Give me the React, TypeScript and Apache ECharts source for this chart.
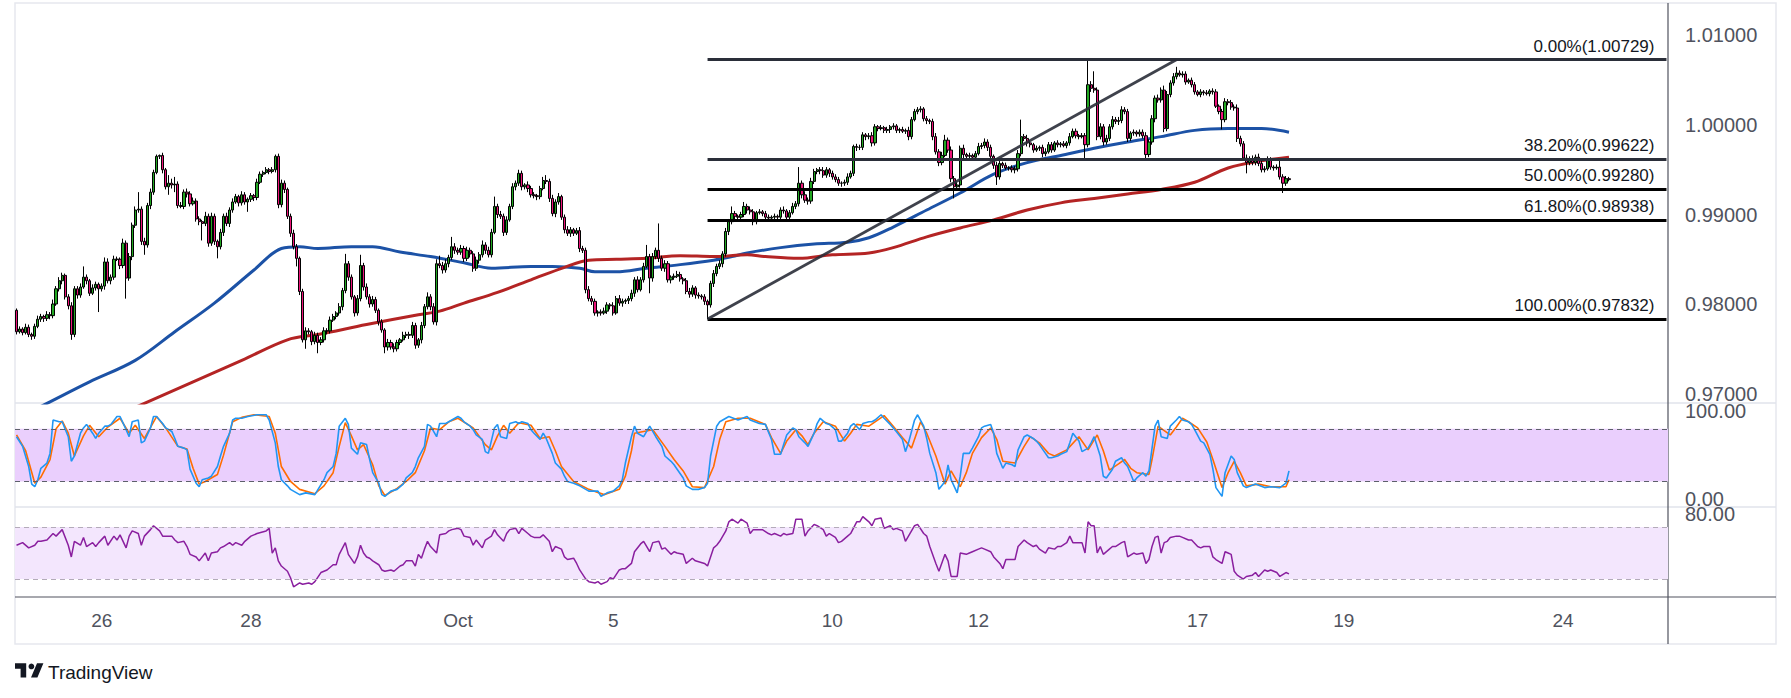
import React, { useEffect, useRef } from "react";
import * as echarts from "echarts";

// ---------- data (prices in pips: 9765 = 0.9765) ----------
const SLOTS = 543;
const firstOpen = 9793;
const closes = [
  9769, 9772, 9768, 9774, 9766, 9764, 9775, 9783, 9786, 9784,
  9788, 9787, 9800, 9817, 9826, 9832, 9808, 9798, 9766, 9817,
  9810, 9819, 9830, 9826, 9812, 9818, 9822, 9817, 9820, 9847,
  9826, 9830, 9850, 9850, 9843, 9868, 9829, 9853, 9888, 9905,
  9906, 9870, 9866, 9910, 9925, 9947, 9965, 9966, 9950, 9931,
  9935, 9933, 9934, 9910, 9909, 9925, 9923, 9912, 9915, 9895,
  9892, 9890, 9898, 9868, 9898, 9870, 9864, 9880, 9898, 9890,
  9905, 9914, 9920, 9913, 9922, 9914, 9917, 9921, 9919, 9936,
  9945, 9947, 9950, 9948, 9950, 9965, 9911, 9935, 9928, 9898,
  9879, 9864, 9851, 9814, 9760, 9770, 9769, 9758, 9765, 9757,
  9760, 9770, 9770, 9782, 9786, 9790, 9797, 9815, 9845, 9830,
  9808, 9790, 9806, 9843, 9819, 9808, 9800, 9805, 9793, 9780,
  9771, 9752, 9757, 9752, 9750, 9757, 9760, 9765, 9766, 9765,
  9776, 9754, 9760, 9776, 9797, 9808, 9797, 9780, 9845, 9843,
  9838, 9845, 9852, 9864, 9860, 9858, 9862, 9851, 9860, 9856,
  9840, 9849, 9855, 9866, 9860, 9855, 9880, 9909, 9900, 9898,
  9880, 9894, 9909, 9931, 9935, 9946, 9931, 9933, 9929, 9922,
  9921, 9920, 9929, 9938, 9937, 9918, 9901, 9914, 9920, 9897,
  9883, 9879, 9883, 9879, 9882, 9862, 9860, 9816, 9806, 9803,
  9790, 9791, 9790, 9792, 9799, 9798, 9790, 9806, 9801, 9803,
  9804, 9806, 9812, 9827, 9816, 9827, 9842, 9853, 9829, 9853,
  9860, 9851, 9840, 9845, 9827, 9830, 9831, 9833, 9828, 9826,
  9814, 9811, 9818, 9810, 9809, 9808, 9803, 9799, 9823, 9834,
  9842, 9845, 9856, 9881, 9892, 9901, 9898, 9897, 9900, 9909,
  9905, 9903, 9892, 9902, 9903, 9901, 9897, 9896, 9897, 9898,
  9897, 9905, 9904, 9897, 9902, 9909, 9912, 9935, 9922, 9916,
  9915, 9937, 9948, 9950, 9949, 9944, 9950, 9946, 9942, 9939,
  9935, 9935, 9936, 9942, 9946, 9976, 9975, 9975, 9989, 9987,
  9988, 9980, 9998, 9996, 9997, 9994, 9995, 9998, 9999, 9994,
  9995, 9993, 9994, 9987, 10006, 10015, 10017, 10018, 10007, 10005,
  10004, 9987, 9970, 9958, 9966, 9983, 9972, 9940, 9931, 9933,
  9974, 9967, 9965, 9966, 9964, 9968, 9976, 9977, 9981, 9975,
  9965, 9955, 9942, 9957, 9955, 9952, 9952, 9950, 9951, 9968,
  9987, 9985, 9980, 9978, 9972, 9974, 9975, 9968, 9970, 9978,
  9972, 9980, 9978, 9979, 9977, 9980, 9987, 9993, 9988, 9987,
  9988, 9978, 10045, 10041, 10039, 9987, 9998, 9981, 9985, 9998,
  10006, 10004, 10005, 10017, 10015, 9985, 9991, 9992, 9990, 9992,
  9988, 9967, 9981, 10007, 10030, 10028, 10039, 9996, 10034, 10047,
  10054, 10058, 10056, 10057, 10048, 10050, 10045, 10037, 10034, 10037,
  10036, 10035, 10038, 10037, 10021, 10015, 10006, 10026, 10025, 10020,
  10019, 9985, 9979, 9963, 9958, 9962, 9958, 9964, 9957, 9950,
  9951, 9961, 9953, 9952, 9953, 9942, 9935, 9940, 9939,
];
const upWick = [
  2, 3, 2, 4, 3, 2, 3, 4, 3, 2, 4, 3, 5, 3, 4, 3, 2, 3, 4, 3,
  3, 4, 12, 3, 2, 4, 3, 2, 3, 5, 4, 3, 4, 3, 2, 5, 3, 4, 3, 4,
  19, 3, 4, 3, 4, 3, 2, 1, 3, 2, 9, 5, 8, 3, 4, 3, 4, 3, 4, 3,
  3, 2, 5, 3, 4, 3, 2, 4, 3, 4, 3, 4, 3, 2, 4, 3, 2, 3, 2, 4,
  3, 2, 3, 2, 3, 2, 3, 4, 3, 2, 3, 4, 3, 2, 3, 4, 3, 2, 4, 3,
  3, 4, 3, 4, 3, 2, 4, 3, 11, 3, 3, 2, 4, 12, 3, 4, 3, 4, 3, 2,
  3, 2, 4, 3, 4, 3, 2, 4, 3, 3, 4, 3, 2, 4, 3, 5, 3, 4, 5, 9,
  4, 5, 3, 11, 4, 3, 4, 3, 4, 3, 3, 4, 3, 5, 3, 4, 4, 11, 3, 4,
  3, 4, 3, 4, 3, 4, 3, 2, 4, 3, 3, 2, 3, 4, 6, 3, 4, 3, 4, 2,
  3, 4, 3, 2, 3, 4, 3, 3, 4, 3, 3, 2, 3, 4, 3, 2, 4, 3, 4, 3,
  2, 3, 4, 3, 4, 3, 4, 13, 3, 4, 3, 30, 3, 4, 3, 2, 3, 4, 3, 2,
  3, 4, 3, 2, 3, 2, 3, 2, 3, 4, 3, 4, 3, 4, 3, 8, 3, 2, 3, 5,
  3, 4, 3, 2, 3, 2, 3, 3, 2, 3, 2, 3, 4, 2, 3, 4, 3, 18, 3, 4,
  3, 4, 3, 2, 3, 4, 3, 2, 3, 3, 3, 2, 3, 4, 3, 2, 3, 3, 3, 2,
  3, 4, 3, 2, 3, 2, 3, 2, 3, 2, 2, 3, 2, 4, 3, 3, 3, 3, 2, 3,
  2, 3, 4, 3, 4, 6, 3, 4, 3, 4, 3, 4, 2, 3, 2, 3, 4, 3, 4, 3,
  3, 2, 4, 3, 2, 3, 2, 3, 3, 4, 19, 3, 4, 3, 2, 3, 2, 3, 4, 3,
  3, 2, 3, 2, 3, 2, 4, 3, 3, 2, 3, 3, 28, 4, 19, 3, 4, 3, 4, 3,
  4, 3, 4, 4, 3, 3, 2, 3, 2, 3, 3, 4, 3, 4, 3, 4, 3, 5, 4, 3,
  4, 7, 3, 3, 3, 2, 3, 3, 2, 3, 2, 3, 2, 3, 3, 2, 3, 4, 3, 3,
  3, 4, 3, 3, 4, 3, 4, 3, 4, 3, 3, 4, 3, 2, 3, 10, 3, 3, 2,
];
const downWick = [
  3, 2, 3, 2, 3, 4, 3, 2, 3, 4, 3, 4, 3, 2, 3, 4, 3, 4, 6, 3,
  4, 3, 2, 4, 3, 2, 3, 26, 3, 4, 3, 4, 3, 2, 4, 3, 23, 3, 4, 3,
  3, 4, 11, 3, 4, 3, 2, 3, 4, 3, 9, 4, 8, 3, 2, 3, 4, 3, 2, 3,
  4, 19, 3, 4, 3, 4, 13, 3, 4, 3, 4, 3, 2, 4, 3, 3, 11, 3, 4, 3,
  2, 3, 2, 3, 2, 3, 4, 3, 4, 3, 4, 3, 9, 4, 3, 10, 3, 4, 3, 12,
  3, 3, 4, 3, 2, 3, 3, 4, 3, 4, 3, 4, 3, 3, 4, 3, 4, 3, 3, 4,
  3, 7, 4, 3, 4, 3, 3, 2, 3, 4, 3, 4, 3, 4, 3, 3, 4, 3, 4, 3,
  4, 3, 4, 3, 4, 3, 3, 4, 3, 4, 4, 3, 4, 3, 4, 3, 3, 2, 4, 3,
  4, 3, 2, 3, 4, 3, 4, 3, 4, 3, 3, 4, 3, 2, 3, 4, 3, 4, 3, 3,
  4, 3, 4, 3, 2, 4, 3, 4, 3, 4, 3, 4, 3, 2, 3, 4, 3, 2, 3, 4,
  3, 4, 3, 4, 3, 2, 3, 2, 17, 4, 3, 4, 3, 4, 3, 4, 3, 2, 3, 4,
  3, 4, 3, 4, 3, 3, 4, 16, 3, 4, 3, 3, 4, 3, 4, 3, 4, 3, 2, 3,
  4, 3, 4, 3, 2, 3, 4, 3, 3, 2, 3, 2, 3, 4, 3, 2, 3, 3, 4, 3,
  4, 3, 3, 3, 4, 3, 3, 4, 3, 3, 3, 4, 3, 3, 2, 3, 4, 3, 3, 4,
  3, 4, 3, 3, 2, 3, 3, 4, 3, 3, 3, 2, 3, 4, 3, 2, 3, 3, 3, 4,
  3, 4, 3, 4, 3, 2, 3, 4, 13, 3, 3, 4, 3, 2, 3, 3, 2, 3, 3, 4,
  3, 4, 9, 3, 3, 2, 3, 3, 4, 3, 3, 3, 4, 3, 3, 2, 3, 4, 3, 2,
  3, 2, 3, 3, 2, 3, 3, 2, 3, 3, 2, 15, 3, 4, 3, 4, 3, 4, 3, 3,
  3, 3, 4, 3, 3, 4, 3, 3, 3, 3, 3, 4, 3, 3, 4, 3, 3, 4, 3, 3,
  3, 3, 2, 3, 3, 2, 3, 3, 2, 3, 3, 2, 3, 3, 2, 3, 11, 3, 3, 3,
  3, 4, 3, 3, 12, 3, 3, 3, 3, 3, 3, 2, 3, 3, 2, 3, 11, 3, 2,
];
// moving averages sampled at bar indices [bar, pips]
const blueMA = [
  [0, 9672], [10, 9689], [24, 9713], [39, 9737], [52, 9769], [65, 9801], [78, 9838], [87, 9862],
  [93, 9864], [99, 9862], [110, 9864], [117, 9864], [126, 9858], [136, 9853], [147, 9846], [156, 9840],
  [169, 9842], [176, 9842], [185, 9840], [190, 9836], [197, 9836], [207, 9840], [218, 9844], [229, 9849],
  [235, 9853], [240, 9857], [251, 9863], [262, 9867], [273, 9869], [280, 9874], [288, 9886], [299, 9905],
  [310, 9924], [321, 9945], [332, 9958], [343, 9966], [354, 9974], [365, 9981], [376, 9987], [387, 9994],
  [398, 9996], [409, 9996], [418, 9992],
];
const redMA = [
  [0, 9626], [42, 9689], [74, 9737], [89, 9760], [99, 9766], [115, 9777], [132, 9788], [139, 9792],
  [147, 9801], [158, 9813], [169, 9827], [180, 9841], [188, 9849], [197, 9850], [207, 9851], [218, 9854],
  [229, 9853], [240, 9855], [246, 9853], [257, 9851], [268, 9855], [280, 9857], [288, 9863], [299, 9875],
  [310, 9885], [321, 9894], [332, 9905], [343, 9913], [354, 9918], [365, 9923], [376, 9928], [387, 9936],
  [398, 9952], [409, 9960], [418, 9964],
];
const stochK = [
  [0,71],[2,60],[4,37],[5,17],[6,14],[7,22],[8,35],[10,41],[11,52],[12,90],[14,88],[15,88],[17,71],[18,43],[19,49],[21,75],[22,81],[23,85],[25,75],[26,69],[27,75],[29,83],[30,83],[31,85],[33,94],[34,94],[36,79],[37,71],[38,88],[40,90],[41,64],[42,66],[44,81],[45,94],[46,94],[48,86],[49,81],[51,77],[52,69],[53,60],[55,58],[56,56],[57,34],[59,18],[60,14],[61,22],[63,24],[64,26],[66,37],[67,49],[68,60],[70,75],[71,90],[72,92],[74,92],[76,94],[79,96],[82,96],[83,90],[85,64],[86,37],[87,22],[89,15],[90,11],[93,5],[95,7],[98,5],[101,22],[102,30],[104,37],[105,52],[106,83],[108,92],[109,85],[110,58],[112,51],[113,64],[115,62],[116,45],[117,30],[119,18],[120,5],[121,3],[123,9],[125,11],[127,17],[128,24],[130,30],[131,37],[132,47],[134,60],[135,85],[136,83],[138,71],[139,86],[141,86],[142,88],[143,90],[145,94],[146,92],[147,88],[149,83],[150,79],[151,73],[153,68],[154,54],[155,52],[157,81],[158,85],[159,71],[161,69],[162,86],[164,88],[165,86],[166,88],[168,86],[169,79],[170,75],[172,68],[173,75],[174,69],[176,52],[177,41],[179,34],[180,26],[181,20],[183,18],[185,15],[188,9],[191,9],[192,3],[194,7],[196,9],[198,15],[199,22],[200,41],[202,71],[203,83],[204,75],
  [206,71],[208,83],[209,77],[210,71],[212,60],[213,49],[215,43],[216,39],[217,34],[219,24],[220,15],[222,11],[224,11],[226,13],[227,18],[228,49],[230,83],[231,88],[233,92],[234,94],[237,90],[240,94],[241,90],[244,86],[246,85],[248,68],[249,51],[251,51],[252,62],[253,73],[255,81],[256,79],[257,71],[259,64],[260,60],[262,75],[263,86],[264,92],[266,86],[267,85],[269,79],[270,66],[271,66],[273,75],[274,83],[275,86],[277,79],[278,86],[280,88],[281,88],[282,90],[284,96],[285,92],[287,85],[288,81],[289,77],[291,68],[292,54],[293,64],[295,90],[296,96],[298,83],[299,69],[300,52],[302,30],[303,11],[305,20],[306,39],[307,22],[309,7],[310,26],[311,52],[313,52],[314,58],[316,71],[317,81],[318,83],[320,85],[321,75],[322,52],[324,35],[325,41],[327,39],[328,37],[329,56],[331,71],[332,73],[334,69],[335,66],[336,62],[338,52],[339,47],[340,47],[342,49],[343,51],[345,54],[346,64],[347,75],[349,66],[350,54],[352,58],[353,64],[354,71],[356,49],[357,26],[358,24],[360,34],[361,43],[363,47],[364,41],[365,37],[367,20],[368,24],[370,30],[371,26],[372,32],[374,83],[375,90],[376,71],[378,69],[379,83],[381,90],[382,94],[383,90],[385,88],[386,85],[387,79],[389,66],[390,64],[392,51],[393,34],[394,13],[396,3],[397,30],[399,49],[400,45],[401,30],[403,15],[404,13],[407,17],[410,13],[412,14],[415,13],[417,18],[418,32],
];
const stochD = [
  [0,73],[3,55],[6,18],[8,25],[11,45],[13,80],[15,89],[17,75],[19,49],[22,72],[24,84],[27,71],[30,82],[34,92],[37,75],[39,84],[42,69],[46,94],[49,81],[53,60],[56,57],[58,35],[60,17],[62,20],[66,28],[68,50],[71,88],[74,93],[78,96],[83,94],[85,75],[87,37],[90,20],[93,11],[98,6],[101,15],[104,30],[106,60],[108,87],[110,72],[112,56],[114,62],[117,39],[119,15],[121,4],[125,12],[128,20],[131,30],[134,55],[136,81],[139,79],[142,88],[145,92],[150,81],[154,62],[156,56],[158,72],[160,84],[162,75],[165,87],[169,84],[172,69],[175,71],[177,55],[179,37],[183,20],[188,11],[193,5],[198,11],[200,26],[202,55],[203,75],[206,77],[209,79],[213,60],[216,45],[219,32],[222,14],[226,13],[229,37],[231,68],[233,88],[237,92],[241,92],[246,85],[248,70],[251,52],[253,66],[256,79],[258,72],[260,62],[262,75],[265,88],[269,83],[272,66],[274,75],[276,85],[280,83],[285,95],[288,83],[291,70],[294,58],[296,78],[297,88],[299,75],[302,49],[305,17],[307,32],[310,14],[312,30],[314,52],[317,70],[320,81],[322,68],[324,43],[328,41],[331,60],[333,71],[336,64],[339,52],[341,49],[345,56],[349,71],[352,56],[355,73],[357,55],[359,33],[362,40],[364,45],[366,35],[368,30],[372,28],[373,45],[375,83],[377,78],[379,73],[381,82],[383,92],[385,88],[388,81],[391,65],[393,45],[396,13],[398,30],[400,43],[402,30],[404,15],[408,17],[412,14],[417,14],[418,22],
];
const rsi = [
  [0,56],[2,58],[4,54],[6,56],[7,59],[8,59],[10,60],[12,65],[13,63],[15,68],[17,56],[18,47],[19,59],[21,56],[22,62],[23,55],[25,58],[26,55],[27,58],[29,63],[30,56],[32,63],[33,60],[34,64],[36,54],[37,63],[38,67],[40,65],[41,56],[42,63],[44,68],[45,71],[47,67],[48,63],[49,63],[51,63],[52,60],[53,58],[55,59],[56,55],[57,49],[59,47],[60,44],[62,50],[63,44],[64,50],[66,51],[67,54],[68,55],[70,58],[71,56],[72,58],[74,56],[75,59],[77,63],[79,65],[82,67],[83,69],[84,50],[85,54],[86,44],[87,40],[89,36],[90,31],[91,24],[93,27],[94,26],[96,27],[97,26],[98,28],[100,35],[101,36],[102,37],[104,41],[105,41],[106,49],[108,58],[109,49],[111,42],[112,47],[113,56],[114,50],[115,47],[116,46],[117,44],[119,41],[120,37],[121,36],[123,37],[124,36],[126,40],[127,41],[128,44],[130,44],[131,40],[132,49],[133,46],[134,53],[135,59],[136,55],[138,50],[139,64],[141,65],[142,67],[143,68],[145,69],[146,68],[147,63],[149,62],[150,56],[151,60],[153,54],[154,60],[156,63],[157,68],[158,64],[160,59],[161,65],[162,68],[164,69],[165,65],[166,69],[168,65],[169,63],[170,62],[172,62],[173,64],[175,59],[176,51],[177,55],[179,53],[180,47],[181,45],[183,46],[184,42],[185,37],[187,30],[188,28],[190,27],[191,28],[192,26],[194,28],[195,31],[196,30],[198,37],[199,38],[200,38],[202,42],[203,51],[205,57],
  [206,59],[208,51],[209,58],[211,59],[212,53],[213,54],[215,49],[216,51],[217,50],[219,49],[220,42],[222,46],[223,44],[226,42],[227,40],[229,54],[230,56],[231,59],[233,67],[234,74],[235,76],[237,73],[238,76],[240,73],[241,65],[242,68],[245,68],[247,65],[248,64],[249,65],[251,63],[252,65],[253,64],[255,65],[256,76],[258,76],[259,63],[260,67],[262,72],[263,71],[265,68],[266,63],[267,65],[269,62],[270,58],[271,59],[273,63],[274,65],[276,74],[277,74],[278,78],[280,74],[281,71],[282,76],[284,77],[285,69],[287,71],[288,68],[289,69],[291,67],[292,59],[294,67],[295,71],[296,72],[298,65],[299,63],[300,55],[302,42],[303,36],[305,49],[306,44],[307,32],[309,32],[310,50],[312,49],[313,50],[314,51],[316,53],[317,54],[318,53],[320,51],[321,47],[323,42],[324,38],[325,45],[327,45],[328,45],[329,55],[331,60],[332,58],[334,55],[335,56],[336,53],[338,50],[339,54],[341,53],[342,55],[343,55],[345,58],[346,63],[347,58],[349,58],[350,58],[351,50],[352,74],[353,71],[354,71],[355,50],[356,55],[357,49],[359,53],[360,55],[361,55],[363,58],[364,59],[365,47],[367,50],[368,49],[370,50],[371,42],[372,45],[373,55],[374,62],[375,63],[376,50],[377,58],[378,59],[379,62],[381,63],[382,63],[383,62],[385,60],[386,60],[388,55],[389,54],[390,55],[392,55],[393,47],[394,45],[396,42],[397,51],[398,50],[399,49],[400,36],[401,33],[403,30],[404,32],[406,33],[407,35],[408,32],[410,37],[411,36],[412,37],[414,35],[415,32],[417,35],[418,34],
];
const dateLabels = [[28, "26"], [77, "28"], [145, "Oct"], [196, "5"], [268, "10"], [316, "12"], [388, "17"], [436, "19"], [508, "24"]];
const priceTicks = [0.97, 0.98, 0.99, 1.0, 1.01];
const fibPct = ["0.00%", "38.20%", "50.00%", "61.80%", "100.00%"];
const fibPrice = [1.00729, 0.99622, 0.9928, 0.98938, 0.97832];
const fibColor = ["#2a2e39", "#2a2e39", "#000000", "#000000", "#000000"];
const fibFrom = 227;
const fibTo = 542;
const trendFrom = [227, 0.97832];
const trendTo = [381, 1.00729];

const FONT = "'Liberation Sans', Arial, sans-serif";
const LABEL = "#50535e";
const LOGO_PATH = "M14 22H7V11H0V4h14v18zM28 22h-8l7.5-18h8L28 22z";

export default function App() {
  const ref = useRef<HTMLDivElement>(null);
  useEffect(() => {
    if (!ref.current) return;
    echarts.graphic.registerShape("tvlogo", echarts.graphic.extendPath(LOGO_PATH, {}) as any);
    const chart = echarts.init(ref.current, null, { renderer: "svg" });

    const labelMap: Record<number, string> = {};
    dateLabels.forEach(([i, s]) => (labelMap[i as number] = s as string));
    const cats = Array.from({ length: SLOTS }, (_, i) => labelMap[i] ?? "");

    const ohlc = closes.map((c, i) => {
      const o = i === 0 ? firstOpen : closes[i - 1];
      const hi = Math.max(o, c) + upWick[i];
      const lo = Math.min(o, c) - downWick[i];
      return [o / 1e4, c / 1e4, lo / 1e4, hi / 1e4];
    });
    const toPrice = (a: number[][]) => a.map(([k, v]) => [k, v / 1e4]);

    const fibLines: any[] = fibPrice.map((p, i) => [
      {
        coord: [fibFrom, p],
        lineStyle: { color: fibColor[i], width: 2.8, type: "solid" },
        label: {
          show: true,
          position: "insideEndTop",
          formatter: `${fibPct[i]}(${p.toFixed(5)})`,
          color: "#131722",
          fontSize: 17,
          fontFamily: FONT,
          distance: [12, 5],
        },
      },
      { coord: [fibTo, p] },
    ]);
    fibLines.push([
      { coord: trendFrom, lineStyle: { color: "#2a2e39", width: 2.8, type: "solid", opacity: 0.9 }, label: { show: false } },
      { coord: trendTo },
    ]);

    const xAxisBase = {
      type: "category",
      data: cats,
      boundaryGap: true,
      axisLine: { show: false },
      axisTick: { show: false },
      splitLine: { show: false },
    };
    const yBase = {
      type: "value",
      position: "right",
      axisLine: { show: false },
      axisTick: { show: false },
      splitLine: { show: false },
    };

    const option: any = {
      animation: false,
      backgroundColor: "#ffffff",
      grid: [
        { left: 15, right: 123, top: 3, height: 400 },
        { left: 15, right: 123, top: 403, height: 104 },
        { left: 15, right: 123, top: 507, height: 90 },
      ],
      xAxis: [
        { ...xAxisBase, gridIndex: 0, axisLabel: { show: false } },
        { ...xAxisBase, gridIndex: 1, axisLabel: { show: false } },
        {
          ...xAxisBase,
          gridIndex: 2,
          axisLabel: { show: true, interval: 0, color: LABEL, fontSize: 19, fontFamily: FONT, margin: 14 },
        },
      ],
      yAxis: [
        {
          ...yBase,
          gridIndex: 0,
          min: 0.96894,
          max: 1.01363,
          axisLabel: {
            customValues: priceTicks,
            formatter: (v: number) => v.toFixed(5),
            color: LABEL,
            fontSize: 20,
            fontFamily: FONT,
            margin: 17,
          },
        },
        {
          ...yBase,
          gridIndex: 1,
          min: -9.1,
          max: 109.4,
          axisLabel: {
            customValues: [0, 100],
            formatter: (v: number) => v.toFixed(2),
            color: LABEL,
            fontSize: 20,
            fontFamily: FONT,
            margin: 17,
          },
        },
        {
          ...yBase,
          gridIndex: 2,
          min: 16.2,
          max: 85.4,
          axisLabel: {
            customValues: [80],
            formatter: (v: number) => v.toFixed(2),
            color: LABEL,
            fontSize: 20,
            fontFamily: FONT,
            margin: 17,
          },
        },
      ],
      series: [
        {
          name: "MA blue",
          type: "line",
          xAxisIndex: 0,
          yAxisIndex: 0,
          data: toPrice(blueMA),
          smooth: 0.35,
          showSymbol: false,
          symbol: "none",
          lineStyle: { color: "#1c52a6", width: 3 },
          z: 2,
          silent: true,
        },
        {
          name: "MA red",
          type: "line",
          xAxisIndex: 0,
          yAxisIndex: 0,
          data: toPrice(redMA),
          smooth: 0.35,
          showSymbol: false,
          symbol: "none",
          lineStyle: { color: "#b42424", width: 3 },
          z: 2,
          silent: true,
        },
        {
          name: "price",
          type: "candlestick",
          xAxisIndex: 0,
          yAxisIndex: 0,
          data: ohlc,
          barWidth: 2.7,
          itemStyle: {
            color: "#22a722",
            color0: "#ec1479",
            borderColor: "#000000",
            borderColor0: "#000000",
            borderWidth: 1,
          },
          z: 3,
          silent: true,
          markLine: { silent: true, symbol: "none", data: fibLines, z: 5 },
        },
        {
          name: "stoch band",
          type: "line",
          xAxisIndex: 1,
          yAxisIndex: 1,
          data: [],
          z: 1,
          silent: true,
          markArea: { silent: true, itemStyle: { color: "#eacffd" }, data: [[{ yAxis: 20 }, { yAxis: 80 }]] },
          markLine: {
            silent: true,
            symbol: "none",
            label: { show: false },
            lineStyle: { color: "#5d606b", type: [5, 4], width: 1 },
            data: [{ yAxis: 80 }, { yAxis: 20 }],
          },
        },
        {
          name: "%D",
          type: "line",
          xAxisIndex: 1,
          yAxisIndex: 1,
          data: stochD,
          showSymbol: false,
          symbol: "none",
          lineStyle: { color: "#ff6d00", width: 1.6 },
          z: 3,
          silent: true,
        },
        {
          name: "%K",
          type: "line",
          xAxisIndex: 1,
          yAxisIndex: 1,
          data: stochK,
          showSymbol: false,
          symbol: "none",
          lineStyle: { color: "#2196f3", width: 1.6 },
          z: 4,
          silent: true,
        },
        {
          name: "rsi band",
          type: "line",
          xAxisIndex: 2,
          yAxisIndex: 2,
          data: [],
          z: 1,
          silent: true,
          markArea: { silent: true, itemStyle: { color: "#f3e6fd" }, data: [[{ yAxis: 30 }, { yAxis: 70 }]] },
          markLine: {
            silent: true,
            symbol: "none",
            label: { show: false },
            lineStyle: { color: "#b3abb9", type: [5, 4], width: 1 },
            data: [{ yAxis: 70 }, { yAxis: 30 }],
          },
        },
        {
          name: "RSI",
          type: "line",
          xAxisIndex: 2,
          yAxisIndex: 2,
          data: rsi,
          showSymbol: false,
          symbol: "none",
          lineStyle: { color: "#8a1f9f", width: 1.5 },
          z: 3,
          silent: true,
        },
      ],
      graphic: [
        { type: "rect", shape: { x: 15, y: 3, width: 1761, height: 641 }, style: { fill: "none", stroke: "#e6e8ee", lineWidth: 1.5 }, silent: true, z: 0 },
        { type: "line", shape: { x1: 15, y1: 403, x2: 1776, y2: 403 }, style: { stroke: "#e0e3eb", lineWidth: 1.5 }, silent: true },
        { type: "line", shape: { x1: 15, y1: 507, x2: 1776, y2: 507 }, style: { stroke: "#e0e3eb", lineWidth: 1.5 }, silent: true },
        { type: "line", shape: { x1: 15, y1: 597, x2: 1776, y2: 597 }, style: { stroke: "#50535e", lineWidth: 1.2 }, silent: true },
        { type: "line", shape: { x1: 1668, y1: 3, x2: 1668, y2: 644 }, style: { stroke: "#50535e", lineWidth: 1.2 }, silent: true },
        { type: "tvlogo", x: 15, y: 660, scaleX: 0.8, scaleY: 0.8, style: { fill: "#131722" }, silent: true },
        { type: "circle", shape: { cx: 15 + 20.5 * 0.8, cy: 660 + 8 * 0.8, r: 3.6 * 0.8 }, style: { fill: "#131722" }, silent: true },
        {
          type: "text",
          x: 48,
          y: 672,
          style: { text: "TradingView", fill: "#131722", fontSize: 19, fontFamily: FONT, verticalAlign: "middle", align: "left" },
          silent: true,
        },
      ],
    };
    chart.setOption(option);
    return () => chart.dispose();
  }, []);

  return (
    <div
      ref={ref}
      style={{ position: "fixed", left: 0, top: 0, width: 1791, height: 698, background: "#ffffff" }}
    />
  );
}
